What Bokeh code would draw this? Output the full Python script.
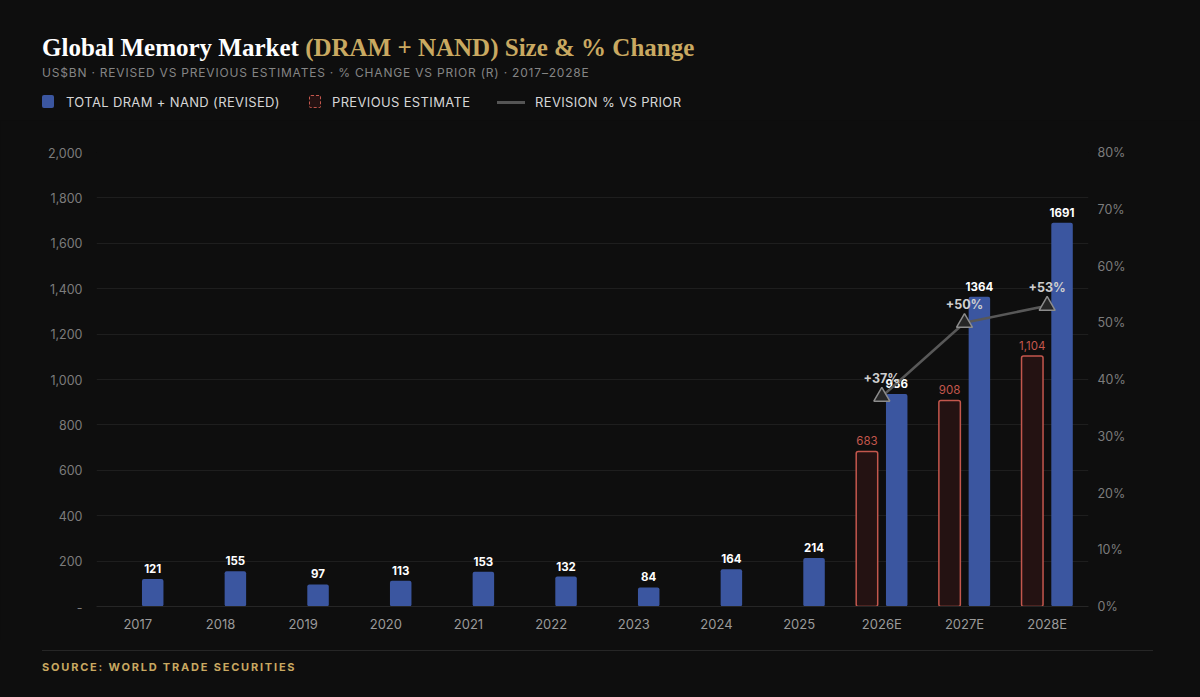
from bokeh.core.properties import value
from bokeh.embed import file_html
from bokeh.layouts import column
from bokeh.models import (ColumnDataSource, Div, FactorRange, FixedTicker,
                          GlobalInlineStyleSheet, LinearAxis, NumeralTickFormatter, Range1d)
from bokeh.plotting import figure
from bokeh.resources import INLINE
from bokeh.transform import dodge

years = ["2017", "2018", "2019", "2020", "2021", "2022", "2023", "2024",
         "2025", "2026E", "2027E", "2028E"]
revised = [121, 155, 97, 113, 153, 132, 84, 164, 214, 936, 1364, 1691]
revised_labels = ["121", "155", "97", "113", "153", "132", "84", "164", "214",
                  "936", "1364", "1691"]
est_years = ["2026E", "2027E", "2028E"]
previous = [683, 908, 1104]
previous_labels = ["683", "908", "1,104"]
revision_pct = [0.37, 0.50, 0.53]
revision_labels = ["+37%", "+50%", "+53%"]

BG = "#0e0e0e"
GOLD = "#c9a961"
BLUE = "#3b56a0"
RED = "#c4574d"
RED_FILL = "#241212"
GRID = "#1e1e1e"
AXIS_TXT = "#7c7c7c"
FONT = "Inter"

# header: title, subtitle and legend
header = Div(width=1200, height=120, margin=0, text=f"""
<div style="position:relative;width:1200px;height:120px;background:{BG};font-family:Inter;">
  <div style="position:absolute;left:42px;top:30px;white-space:nowrap;font-family:'Liberation Serif';
              font-weight:bold;font-size:25px;color:#ffffff;">Global Memory Market
    <span style="color:{GOLD};">(DRAM + NAND) Size &amp; % Change</span></div>
  <div style="position:absolute;left:42px;top:64px;white-space:nowrap;font-size:12px;
              letter-spacing:0.8px;color:#858585;">US$BN · REVISED VS PREVIOUS ESTIMATES · % CHANGE VS PRIOR (R) · 2017–2028E</div>
  <div style="position:absolute;left:42px;top:95px;width:12px;height:13px;border-radius:2px;background:{BLUE};"></div>
  <div style="position:absolute;left:66px;top:93px;white-space:nowrap;font-size:13px;letter-spacing:0.35px;color:#d6d6d6;">TOTAL DRAM + NAND (REVISED)</div>
  <div style="position:absolute;left:309px;top:95px;width:12px;height:13px;box-sizing:border-box;
              border:1.5px dashed {RED};border-radius:2px;background:{RED_FILL};"></div>
  <div style="position:absolute;left:332px;top:93px;white-space:nowrap;font-size:13px;letter-spacing:0.35px;color:#d6d6d6;">PREVIOUS ESTIMATE</div>
  <div style="position:absolute;left:497px;top:101px;width:28px;height:3px;background:#555555;"></div>
  <div style="position:absolute;left:535px;top:93px;white-space:nowrap;font-size:13px;letter-spacing:0.35px;color:#d6d6d6;">REVISION % VS PRIOR</div>
</div>""")

# frame sits at page x 96..1088, y 152..606
p = figure(x_range=FactorRange(*years, range_padding=0), y_range=Range1d(0, 2000),
           frame_width=992, frame_height=454,
           min_border_left=96, min_border_right=112, min_border_top=32, min_border_bottom=34,
           output_backend="svg", toolbar_location=None, tools="", margin=0)
p.background_fill_color = BG
p.border_fill_color = BG
p.outline_line_color = None
p.extra_y_ranges = {"pct": Range1d(0, 0.8)}

rev_src = ColumnDataSource(dict(year=years, val=revised, lab=revised_labels))
prev_src = ColumnDataSource(dict(year=est_years, val=previous, lab=previous_labels))
pct_src = ColumnDataSource(dict(year=est_years, pct=revision_pct, lab=revision_labels))

p.vbar(x=dodge("year", -0.18, range=p.x_range), top="val", width=0.26, source=prev_src,
       fill_color=RED_FILL, line_color=RED, line_width=1.5, border_radius=2)
p.vbar(x=dodge("year", 0.18, range=p.x_range), top="val", width=0.26, source=rev_src,
       fill_color=BLUE, line_color=None, border_radius=2)

p.text(x=dodge("year", 0.18, range=p.x_range), y="val", text="lab", source=rev_src,
       text_align="center", text_baseline="bottom", y_offset=-6,
       text_font=value(FONT), text_font_style="bold", text_font_size="11.5px", text_color="white")
p.text(x=dodge("year", -0.18, range=p.x_range), y="val", text="lab", source=prev_src,
       text_align="center", text_baseline="bottom", y_offset=-6,
       text_font=value(FONT), text_font_size="11.5px", text_color=RED)

p.line(x="year", y="pct", source=pct_src, y_range_name="pct",
       line_color="#585858", line_width=2.5)
p.scatter(x="year", y="pct", source=pct_src, y_range_name="pct", marker="triangle",
          size=16, fill_color="#262626", line_color="#8c8c8c", line_width=1.5)
p.text(x="year", y="pct", text="lab", source=pct_src, y_range_name="pct",
       text_align="center", text_baseline="bottom", y_offset=-11,
       text_font=value(FONT), text_font_style="bold", text_font_size="12.5px", text_color="#cfcfcf")

# axes
p.xaxis.axis_line_color = "#262626"
p.xaxis.major_tick_line_color = None
p.xaxis.major_tick_out = 0
p.xaxis.minor_tick_line_color = None
p.xaxis.major_label_text_color = "#9a9a9a"
p.xaxis.major_label_text_font = FONT
p.xaxis.major_label_text_font_size = "13px"
p.xaxis.major_label_standoff = 9

p.yaxis.ticker = FixedTicker(ticks=list(range(0, 2001, 200)))
p.yaxis.formatter = NumeralTickFormatter(format="0,0")
p.yaxis.major_label_overrides = {0: "-"}
p.yaxis.axis_line_color = None
p.yaxis.major_tick_line_color = None
p.yaxis.major_tick_out = 0
p.yaxis.minor_tick_line_color = None
p.yaxis.major_label_text_color = AXIS_TXT
p.yaxis.major_label_text_font = FONT
p.yaxis.major_label_text_font_size = "12.5px"
p.yaxis.major_label_standoff = 14

right = LinearAxis(y_range_name="pct", ticker=FixedTicker(ticks=[i / 10 for i in range(9)]),
                   formatter=NumeralTickFormatter(format="0%"))
right.axis_line_color = None
right.major_tick_line_color = None
right.major_tick_out = 0
right.minor_tick_line_color = None
right.major_label_text_color = AXIS_TXT
right.major_label_text_font = FONT
right.major_label_text_font_size = "12.5px"
right.major_label_standoff = 9
p.add_layout(right, "right")

p.xgrid.grid_line_color = None
p.ygrid.grid_line_color = GRID
p.ygrid.ticker = FixedTicker(ticks=list(range(0, 2001, 200)))

footer = Div(width=1200, height=57, margin=0, text=f"""
<div style="position:relative;width:1200px;height:57px;background:{BG};font-family:Inter;">
  <div style="position:absolute;left:42px;top:10px;width:1111px;height:1px;background:#262626;"></div>
  <div style="position:absolute;left:42px;top:20px;white-space:nowrap;font-size:11px;font-weight:bold;
              letter-spacing:1.8px;color:{GOLD};">SOURCE: WORLD TRADE SECURITIES</div>
</div>""")

layout = column(header, p, footer, spacing=0)
layout.stylesheets = [GlobalInlineStyleSheet(css="body { background: %s; }" % BG)]

open("out.html", "w").write(file_html(layout, INLINE))
